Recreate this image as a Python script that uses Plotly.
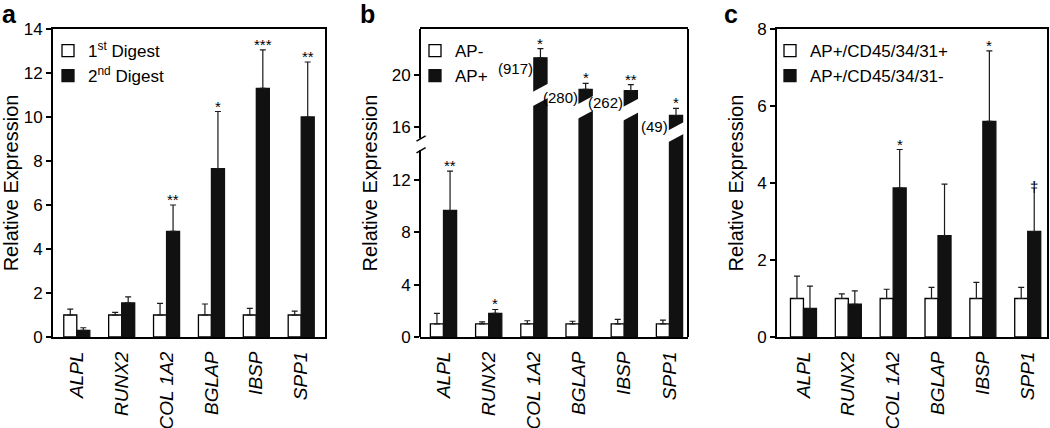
import plotly.graph_objects as go

# ---------------- data ----------------
genes = ["ALPL", "RUNX2", "COL 1A2", "BGLAP", "IBSP", "SPP1"]

# Panel a: 1st vs 2nd digest
a_first = [1.0, 1.0, 1.0, 1.0, 1.0, 1.0]
a_first_err = [0.27, 0.12, 0.53, 0.50, 0.30, 0.18]
a_second = [0.30, 1.55, 4.80, 7.65, 11.30, 10.00]
a_second_err = [0.12, 0.27, 1.20, 2.60, 1.75, 2.50]
a_sig = ["", "", "**", "*", "***", "**"]

# Panel b: AP- vs AP+ (axis broken; true values of the broken bars in parentheses)
b_neg = [1.0, 1.0, 1.0, 1.0, 1.0, 1.0]
b_neg_err = [0.80, 0.16, 0.24, 0.20, 0.34, 0.29]
b_pos_shown = [9.65, 1.80, 21.30, 18.90, 18.80, 16.90]
b_pos_err = [3.00, 0.30, 0.70, 0.45, 0.45, 0.55]
b_pos_true = [None, None, 917, 280, 262, 49]
b_sig = ["**", "*", "*", "*", "**", "*"]

# Panel c: AP+/CD45/34/31+ vs AP+/CD45/34/31-
c_pos = [1.0, 1.0, 1.0, 1.0, 1.0, 1.0]
c_pos_err = [0.58, 0.12, 0.24, 0.29, 0.42, 0.29]
c_neg = [0.74, 0.85, 3.87, 2.63, 5.60, 2.74]
c_neg_err = [0.58, 0.35, 1.00, 1.34, 1.83, 1.13]
c_sig = ["", "", "*", "", "*", "†"]

# ---------------- styling / layout ----------------
FONT = "Liberation Sans, Arial, Helvetica, sans-serif"
W_PX, H_PX = 1050, 428
BW = 0.29  # bar width in category units
xs = list(range(len(genes)))
tick_text = [f"<i>{g}</i>" for g in genes]

def px_x(p):
    return p / W_PX

def px_y(p):
    return 1 - p / H_PX

y_dom = [px_y(337), px_y(29)]

fig = go.Figure()


def add_pair(xa, ya, leg, v1, e1, n1, v2, e2, n2):
    common_err = dict(type="data", symmetric=False, color="#1a1a1a", thickness=1.2, width=3)
    fig.add_trace(go.Bar(
        x=xs, y=v1, width=BW, offset=-BW, name=n1,
        marker=dict(color="white", line=dict(color="black", width=1.3)),
        error_y=dict(array=e1, arrayminus=[0] * len(e1), **common_err),
        xaxis=xa, yaxis=ya, legend=leg, hoverinfo="skip"))
    fig.add_trace(go.Bar(
        x=xs, y=v2, width=BW, offset=0, name=n2,
        marker=dict(color="#111111", line=dict(color="#111111", width=1.3)),
        error_y=dict(array=e2, arrayminus=[0] * len(e2), **common_err),
        xaxis=xa, yaxis=ya, legend=leg, hoverinfo="skip"))


add_pair("x", "y", "legend", a_first, a_first_err, "1<sup>st</sup> Digest",
         a_second, a_second_err, "2<sup>nd</sup> Digest")
add_pair("x2", "y2", "legend2", b_neg, b_neg_err, "AP-",
         b_pos_shown, b_pos_err, "AP+")
add_pair("x3", "y3", "legend3", c_pos, c_pos_err, "AP+/CD45/34/31+",
         c_neg, c_neg_err, "AP+/CD45/34/31-")

axis_font = dict(family=FONT, size=17, color="black")
title_font = dict(family=FONT, size=20, color="black")


def xaxis_cfg(dom, rng, anchor):
    return dict(domain=dom, range=rng, anchor=anchor, tickvals=xs, ticktext=tick_text,
                tickangle=-90, tickfont=dict(family=FONT, size=19, color="black"),
                ticklabelstandoff=5,
                showline=True, mirror=True, linewidth=2, linecolor="black",
                ticks="", showgrid=False, zeroline=False, automargin=False,
                fixedrange=True)


def yaxis_cfg(rng, tv, anchor, showline=True):
    return dict(domain=y_dom, range=rng, anchor=anchor, tickvals=tv,
                ticks="outside", ticklen=5, tickwidth=1.5, tickcolor="black",
                tickfont=axis_font, showline=showline, mirror=True, linewidth=2,
                linecolor="black", showgrid=False, zeroline=False, automargin=False,
                title=dict(text="Relative Expression", font=title_font, standoff=8),
                fixedrange=True)


legend_common = dict(xanchor="left", yanchor="top", bgcolor="rgba(0,0,0,0)",
                     font=dict(family=FONT, size=17, color="black"),
                     itemwidth=30, tracegroupgap=0)

fig.update_layout(
    width=W_PX, height=H_PX,
    margin=dict(l=0, r=0, t=0, b=0),
    paper_bgcolor="white", plot_bgcolor="white",
    barmode="overlay", showlegend=True,
    xaxis=xaxis_cfg([px_x(53), px_x(325)], [-0.53, 5.53], "y"),
    yaxis=yaxis_cfg([0, 14], list(range(0, 15, 2)), "x"),
    xaxis2=xaxis_cfg([px_x(420), px_x(688)], [-0.52, 5.41], "y2"),
    yaxis2=yaxis_cfg([0, 23.5], [0, 4, 8, 12, 16, 20], "x2", showline=False),
    xaxis3=xaxis_cfg([px_x(777), px_x(1047)], [-0.59, 5.43], "y3"),
    yaxis3=yaxis_cfg([0, 8], list(range(0, 9, 2)), "x3"),
    legend=dict(x=px_x(48), y=px_y(33), **legend_common),
    legend2=dict(x=px_x(415), y=px_y(33), **legend_common),
    legend3=dict(x=px_x(770), y=px_y(33), **legend_common),
)

shapes = []
# Panel b frame: right border and broken left border
shapes.append(dict(type="line", xref="x2 domain", yref="y2 domain", x0=1, x1=1, y0=0, y1=1,
                   line=dict(color="black", width=2)))
shapes.append(dict(type="line", xref="x2 domain", yref="y2", x0=0, x1=0, y0=0, y1=14.25,
                   line=dict(color="black", width=2)))
shapes.append(dict(type="line", xref="x2 domain", yref="y2", x0=0, x1=0, y0=15.15, y1=23.5,
                   line=dict(color="black", width=2)))
for y_lo in (14.05, 14.95):
    shapes.append(dict(type="line", xref="x2 domain", yref="y2", x0=-0.013, x1=0.021,
                       y0=y_lo, y1=y_lo + 0.4, line=dict(color="black", width=1.5)))

# Panel b: slanted white gaps in the broken bars
gap_base = {2: 17.6, 3: 16.65, 4: 16.5, 5: 14.85}
gap_h = {2: 1.1, 3: 1.1, 4: 1.05, 5: 0.9}
rise = 0.65
for i, y0 in gap_base.items():
    xl, xr = i - 0.03, i + BW + 0.03
    g = gap_h[i]
    shapes.append(dict(type="path", xref="x2", yref="y2",
                       path=f"M {xl},{y0} L {xr},{y0 + rise} L {xr},{y0 + rise + g} L {xl},{y0 + g} Z",
                       fillcolor="white", line=dict(width=0), layer="above"))
fig.update_layout(shapes=shapes)

ann = []
# Panel letters
for letter, xp in (("a", 0), ("b", 358), ("c", 722)):
    ann.append(dict(text=f"<b>{letter}</b>", xref="paper", yref="paper", x=px_x(xp), y=px_y(14),
                    xanchor="left", yanchor="middle", showarrow=False,
                    font=dict(family=FONT, size=25, color="black")))


def add_sig(xa, ya, vals, errs, sig):
    for i, s in enumerate(sig):
        if not s:
            continue
        shift = -9 if s == "†" else -5
        ann.append(dict(text=s, xref=xa, yref=ya, x=i + BW / 2, y=vals[i] + errs[i],
                        xanchor="center", yanchor="bottom", yshift=shift, showarrow=False,
                        font=dict(family=FONT, size=15, color="black")))


add_sig("x", "y", a_second, a_second_err, a_sig)
add_sig("x2", "y2", b_pos_shown, b_pos_err, b_sig)
add_sig("x3", "y3", c_neg, c_neg_err, c_sig)

# True values of the broken bars in panel b
label_y = {2: 20.5, 3: 18.25, 4: 17.9, 5: 16.05}
for i, v in enumerate(b_pos_true):
    if v is None:
        continue
    ann.append(dict(text=f"({v})", xref="x2", yref="y2", x=i, y=label_y[i],
                    xanchor="right", yanchor="middle", xshift=1, showarrow=False,
                    font=dict(family=FONT, size=15, color="black")))

fig.update_layout(annotations=ann)

fig.write_html("out.html", config={"displayModeBar": False},
               post_script="document.body.style.margin='0';document.body.style.overflow='hidden';")
